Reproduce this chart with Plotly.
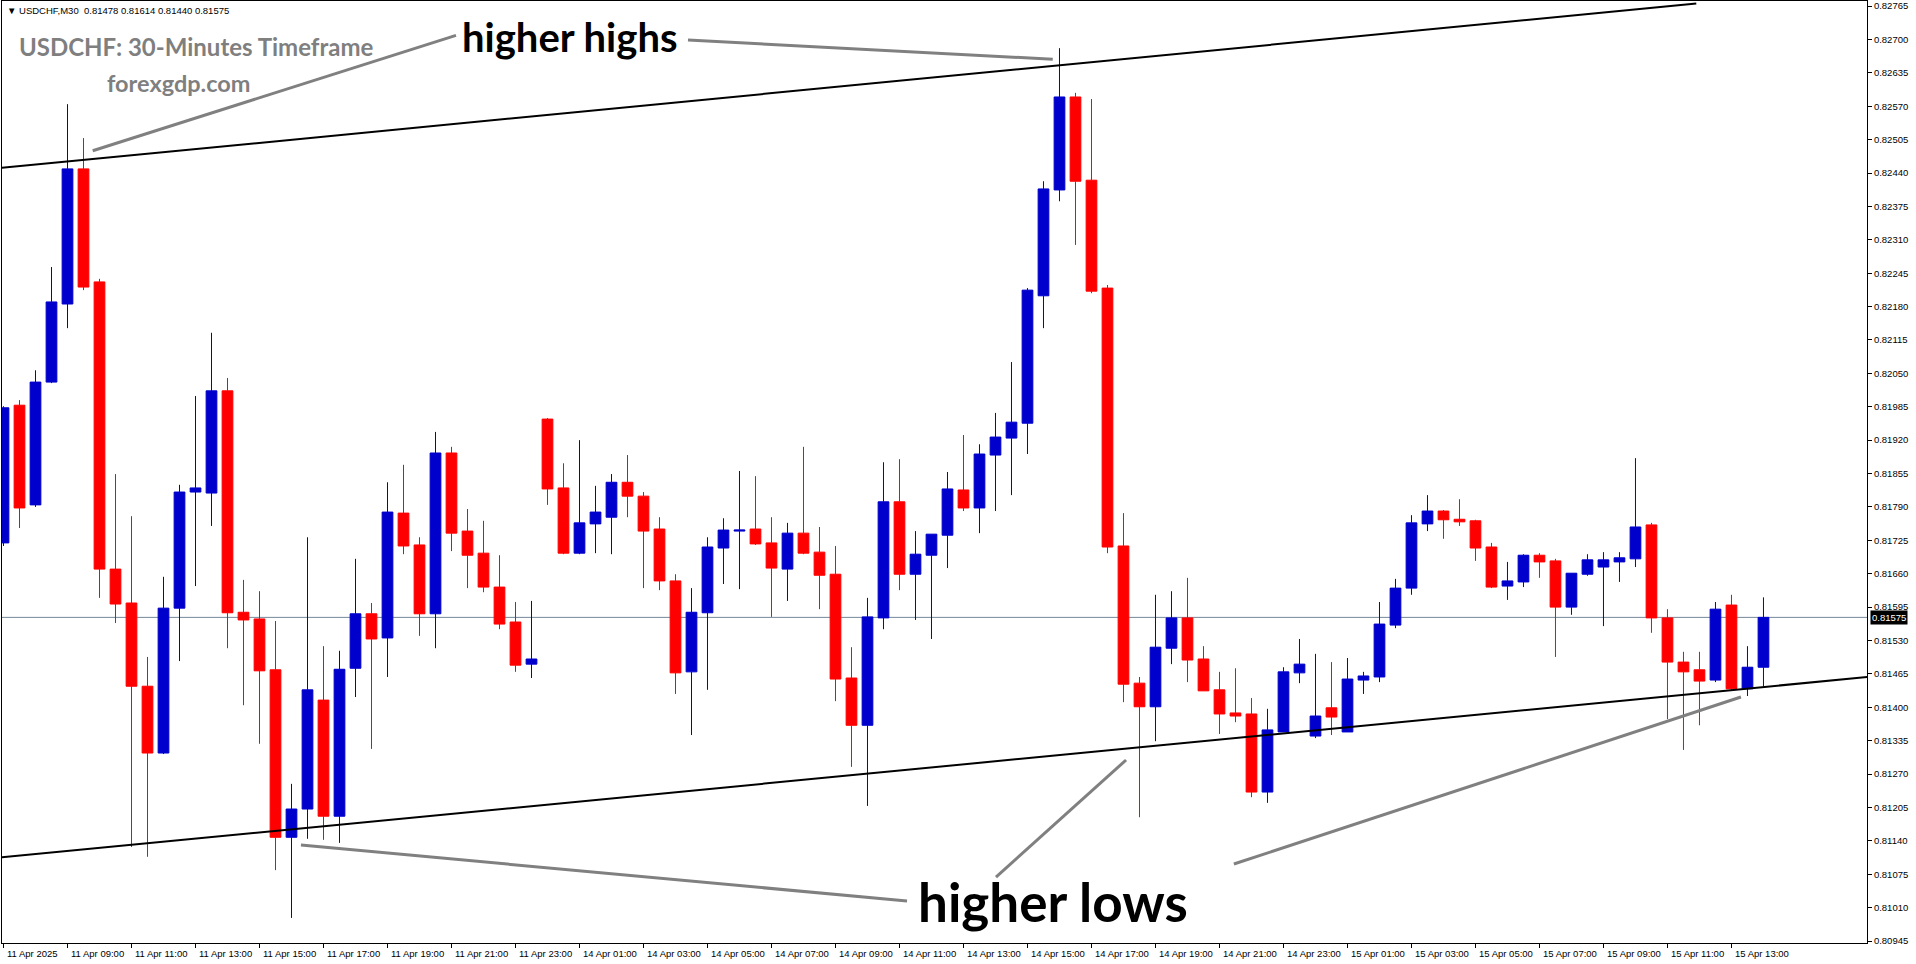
import plotly.graph_objects as go

# ---------------- data (USDCHF M30) ----------------
opens = [0.81720, 0.81988, 0.81794, 0.82033, 0.82185, 0.82448, 0.82228, 0.81669, 0.81603, 0.81441,
         0.81311, 0.81593, 0.81819, 0.81817, 0.82016, 0.81585, 0.81572, 0.81473, 0.81147, 0.81202,
         0.81414, 0.81188, 0.81476, 0.81582, 0.81535, 0.81778, 0.81716, 0.81582, 0.81895, 0.81743,
         0.81700, 0.81634, 0.81566, 0.81484, 0.81961, 0.81827, 0.81700, 0.81757, 0.81770, 0.81838,
         0.81811, 0.81747, 0.81646, 0.81469, 0.81584, 0.81710, 0.81743, 0.81747, 0.81720, 0.81669,
         0.81739, 0.81702, 0.81659, 0.81457, 0.81365, 0.81574, 0.81800, 0.81659, 0.81696, 0.81735,
         0.81823, 0.81788, 0.81891, 0.81924, 0.81953, 0.82201, 0.82407, 0.82588, 0.82426, 0.82216,
         0.81714, 0.81447, 0.81401, 0.81515, 0.81574, 0.81494, 0.81434, 0.81389, 0.81387, 0.81235,
         0.81352, 0.81467, 0.81344, 0.81399, 0.81352, 0.81453, 0.81459, 0.81560, 0.81632, 0.81757,
         0.81782, 0.81766, 0.81763, 0.81712, 0.81636, 0.81644, 0.81696, 0.81685, 0.81595, 0.81659,
         0.81673, 0.81683, 0.81689, 0.81755, 0.81574, 0.81488, 0.81473, 0.81453, 0.81599, 0.81436,
         0.81478]

highs = [0.81986, 0.81998, 0.82056, 0.82257, 0.82574, 0.82508, 0.82234, 0.81854, 0.81772, 0.81498,
         0.81654, 0.81833, 0.82006, 0.82129, 0.82041, 0.81648, 0.81626, 0.81568, 0.81251, 0.81731,
         0.81519, 0.81510, 0.81689, 0.81603, 0.81838, 0.81872, 0.81731, 0.81936, 0.81907, 0.81786,
         0.81763, 0.81696, 0.81605, 0.81607, 0.81963, 0.81875, 0.81920, 0.81831, 0.81854, 0.81891,
         0.81819, 0.81770, 0.81659, 0.81632, 0.81731, 0.81768, 0.81860, 0.81850, 0.81770, 0.81759,
         0.81907, 0.81751, 0.81714, 0.81517, 0.81613, 0.81877, 0.81883, 0.81743, 0.81737, 0.81858,
         0.81930, 0.81912, 0.81973, 0.82072, 0.82216, 0.82424, 0.82683, 0.82596, 0.82584, 0.82222,
         0.81778, 0.81459, 0.81619, 0.81626, 0.81652, 0.81519, 0.81469, 0.81476, 0.81418, 0.81397,
         0.81478, 0.81533, 0.81504, 0.81488, 0.81496, 0.81469, 0.81605, 0.81650, 0.81774, 0.81813,
         0.81784, 0.81805, 0.81765, 0.81720, 0.81683, 0.81698, 0.81700, 0.81689, 0.81661, 0.81698,
         0.81702, 0.81702, 0.81885, 0.81759, 0.81591, 0.81508, 0.81508, 0.81605, 0.81619, 0.81519,
         0.81614]

lows = [0.81714, 0.81749, 0.81790, 0.82031, 0.82138, 0.82212, 0.81613, 0.81564, 0.81128, 0.81109,
        0.81309, 0.81490, 0.81636, 0.81753, 0.81515, 0.81404, 0.81329, 0.81083, 0.80990, 0.81144,
        0.81142, 0.81136, 0.81420, 0.81319, 0.81459, 0.81698, 0.81539, 0.81515, 0.81704, 0.81632,
        0.81624, 0.81552, 0.81469, 0.81457, 0.81794, 0.81698, 0.81698, 0.81700, 0.81698, 0.81770,
        0.81632, 0.81628, 0.81426, 0.81346, 0.81434, 0.81640, 0.81630, 0.81716, 0.81576, 0.81607,
        0.81698, 0.81591, 0.81412, 0.81284, 0.81208, 0.81552, 0.81628, 0.81570, 0.81533, 0.81671,
        0.81782, 0.81739, 0.81782, 0.81813, 0.81893, 0.82138, 0.82385, 0.82300, 0.82206, 0.81700,
        0.81410, 0.81186, 0.81334, 0.81484, 0.81449, 0.81432, 0.81348, 0.81371, 0.81225, 0.81214,
        0.81352, 0.81447, 0.81340, 0.81346, 0.81352, 0.81426, 0.81449, 0.81554, 0.81619, 0.81743,
        0.81728, 0.81753, 0.81685, 0.81632, 0.81609, 0.81634, 0.81652, 0.81498, 0.81580, 0.81656,
        0.81558, 0.81644, 0.81673, 0.81545, 0.81377, 0.81317, 0.81365, 0.81449, 0.81434, 0.81422,
        0.81440]

closes = [0.81983, 0.81788, 0.82033, 0.82189, 0.82448, 0.82218, 0.81669, 0.81601, 0.81441, 0.81311,
          0.81593, 0.81819, 0.81827, 0.82016, 0.81584, 0.81570, 0.81471, 0.81147, 0.81202, 0.81434,
          0.81188, 0.81474, 0.81582, 0.81533, 0.81780, 0.81714, 0.81582, 0.81895, 0.81739, 0.81696,
          0.81634, 0.81562, 0.81482, 0.81494, 0.81825, 0.81700, 0.81759, 0.81780, 0.81838, 0.81811,
          0.81743, 0.81646, 0.81467, 0.81585, 0.81712, 0.81745, 0.81745, 0.81718, 0.81671, 0.81739,
          0.81700, 0.81657, 0.81455, 0.81365, 0.81576, 0.81800, 0.81659, 0.81698, 0.81737, 0.81825,
          0.81788, 0.81893, 0.81926, 0.81955, 0.82212, 0.82409, 0.82588, 0.82424, 0.82210, 0.81712,
          0.81445, 0.81401, 0.81517, 0.81574, 0.81492, 0.81432, 0.81387, 0.81383, 0.81235, 0.81356,
          0.81469, 0.81484, 0.81383, 0.81381, 0.81455, 0.81461, 0.81562, 0.81632, 0.81759, 0.81782,
          0.81765, 0.81761, 0.81710, 0.81634, 0.81646, 0.81696, 0.81683, 0.81595, 0.81661, 0.81687,
          0.81687, 0.81691, 0.81751, 0.81574, 0.81488, 0.81469, 0.81451, 0.81591, 0.81436, 0.81478,
          0.81575]

time_labels = ["11 Apr 2025", "11 Apr 09:00", "11 Apr 11:00", "11 Apr 13:00", "11 Apr 15:00",
               "11 Apr 17:00", "11 Apr 19:00", "11 Apr 21:00", "11 Apr 23:00", "14 Apr 01:00",
               "14 Apr 03:00", "14 Apr 05:00", "14 Apr 07:00", "14 Apr 09:00", "14 Apr 11:00",
               "14 Apr 13:00", "14 Apr 15:00", "14 Apr 17:00", "14 Apr 19:00", "14 Apr 21:00",
               "14 Apr 23:00", "15 Apr 01:00", "15 Apr 03:00", "15 Apr 05:00", "15 Apr 07:00",
               "15 Apr 09:00", "15 Apr 11:00", "15 Apr 13:00"]
bars_per_label = 4

price_ticks = [0.80945, 0.81010, 0.81075, 0.81140, 0.81205, 0.81270, 0.81335, 0.81400, 0.81465,
               0.81530, 0.81595, 0.81660, 0.81725, 0.81790, 0.81855, 0.81920, 0.81985, 0.82050,
               0.82115, 0.82180, 0.82245, 0.82310, 0.82375, 0.82440, 0.82505, 0.82570, 0.82635,
               0.82700, 0.82765]

last_price = 0.81575

# channel trend lines: (bar index, price) at both ends
upper_channel = [(-0.1, 0.82450), (105.8, 0.82770)]
lower_channel = [(-0.1, 0.81108), (116.5, 0.81459)]

# ---------------- annotation geometry ----------------
pointer_lines = [
    ((5.575, 0.824834), (28.28, 0.827078)),
    ((42.78, 0.826988), (65.58, 0.826613)),
    ((18.59, 0.811319), (56.47, 0.810229)),
    ((62.03, 0.810696), (70.16, 0.812974)),
    ((76.9, 0.810949), (108.59, 0.814200)),
]

x = list(range(len(opens)))
tick_idx = list(range(0, len(opens), bars_per_label))[:len(time_labels)]

BLUE = "#0000CD"
RED = "#FF0000"
AXFONT = "Liberation Sans, Arial, sans-serif"
BIGFONT = "Lato, 'Open Sans', sans-serif"

fig = go.Figure()
fig.add_trace(go.Candlestick(
    x=x, open=opens, high=highs, low=lows, close=closes,
    increasing=dict(line=dict(color=BLUE, width=1), fillcolor=BLUE),
    decreasing=dict(line=dict(color=RED, width=1), fillcolor=RED),
    whiskerwidth=0, hoverinfo="skip", showlegend=False,
))

shapes = []
# current price line
shapes.append(dict(type="line", xref="paper", x0=0, x1=1, yref="y", y0=last_price, y1=last_price,
                   line=dict(color="#778899", width=1), layer="below"))
for (p0, p1) in (upper_channel, lower_channel):
    shapes.append(dict(type="line", xref="x", yref="y", x0=p0[0], y0=p0[1], x1=p1[0], y1=p1[1],
                       line=dict(color="black", width=2)))
for (p0, p1) in pointer_lines:
    shapes.append(dict(type="line", xref="x", yref="y", x0=p0[0], y0=p0[1], x1=p1[0], y1=p1[1],
                       line=dict(color="#808080", width=3)))

annotations = []
# x axis labels, left aligned at tick
for i, lab in zip(tick_idx, time_labels):
    annotations.append(dict(x=i + 0.08, xref="x", xanchor="left", y=-0.0108, yref="paper",
                            yanchor="middle", text=lab, showarrow=False,
                            font=dict(family=AXFONT, size=9.5, color="black")))
# header line
annotations.append(dict(x=0.0016, xref="paper", xanchor="left", y=0.9894, yref="paper", yanchor="middle",
                        text="\u25BC USDCHF,M30  %.5f %.5f %.5f %.5f" % (opens[-1], highs[-1], lows[-1], closes[-1]),
                        showarrow=False, font=dict(family=AXFONT, size=9.5, color="black")))
# titles
annotations.append(dict(x=0.0080, xref="paper", xanchor="left", y=0.9522, yref="paper", yanchor="middle",
                        text="<b>USDCHF: 30-Minutes Timeframe</b>", showarrow=False,
                        font=dict(family=BIGFONT, size=24, color="#7F7F7F")))
annotations.append(dict(x=0.0949, xref="paper", xanchor="center", y=0.913, yref="paper", yanchor="middle",
                        text="<b>forexgdp.com</b>", showarrow=False,
                        font=dict(family=BIGFONT, size=23.5, color="#7F7F7F")))
annotations.append(dict(x=35.41, xref="x", xanchor="center", y=0.827053, yref="y", yanchor="middle",
                        text="<b>higher highs</b>", showarrow=False,
                        font=dict(family=BIGFONT, size=40, color="black")))
annotations.append(dict(x=65.59, xref="x", xanchor="center", y=0.81022, yref="y", yanchor="middle",
                        text="<b>higher lows</b>", showarrow=False,
                        font=dict(family=BIGFONT, size=53, color="black")))
# last price tag
annotations.append(dict(x=1.0016, xref="paper", xanchor="left", y=last_price, yref="y", yanchor="middle",
                        text="%.5f" % last_price, showarrow=False, bgcolor="black", borderpad=1,
                        font=dict(family=AXFONT, size=9.5, color="white")))

fig.update_layout(
    width=1916, height=964,
    margin=dict(l=2, r=49, t=1, b=21, pad=0),
    paper_bgcolor="white", plot_bgcolor="white",
    showlegend=False, boxgap=0.33, boxgroupgap=0,
    shapes=shapes, annotations=annotations,
    xaxis=dict(range=[-0.094, 116.47], showgrid=False, zeroline=False,
               showline=True, mirror=True, linecolor="black", linewidth=1,
               ticks="outside", ticklen=4, tickcolor="black", tickvals=tick_idx,
               showticklabels=False, rangeslider=dict(visible=False), fixedrange=True),
    yaxis=dict(range=[0.809412, 0.827748], side="right", showgrid=False, zeroline=False,
               showline=True, mirror=True, linecolor="black", linewidth=1,
               ticks="outside", ticklen=4, tickcolor="black",
               tickvals=price_ticks, ticktext=["%.5f" % v for v in price_ticks],
               tickfont=dict(family=AXFONT, size=9.5, color="black"), fixedrange=True),
)

fig.write_html("out.html", config={"displayModeBar": False},
               post_script="document.body.style.margin='0';document.body.style.overflow='hidden';")
